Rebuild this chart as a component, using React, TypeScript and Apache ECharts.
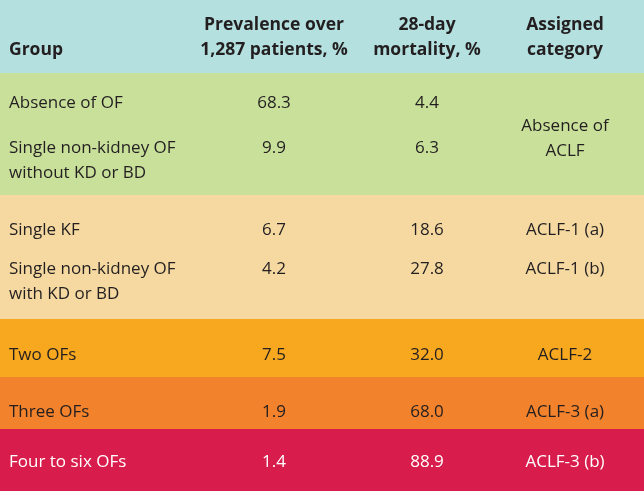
import React, { useEffect, useRef } from "react";
import * as echarts from "echarts";

// ---- data ----
const headers = ["Group", "Prevalence over\n1,287 patients, %", "28-day\nmortality, %", "Assigned\ncategory"];
const groups = [
  "Absence of OF",
  "Single non-kidney OF\nwithout KD or BD",
  "Single KF",
  "Single non-kidney OF\nwith KD or BD",
  "Two OFs",
  "Three OFs",
  "Four to six OFs",
];
const prevalence = [68.3, 9.9, 6.7, 4.2, 7.5, 1.9, 1.4];
const mortality = [4.4, 6.3, 18.6, 27.8, 32.0, 68.0, 88.9];
const categories = ["Absence of\nACLF", "ACLF-1 (a)", "ACLF-1 (b)", "ACLF-2", "ACLF-3 (a)", "ACLF-3 (b)"];
const rowBand = [1, 1, 2, 2, 3, 4, 5];

// ---- layout & style ----
const W = 644;
const H = 491;
const bandEdges = [0, 73, 195, 319, 377, 429, 491];
const bandColors = ["#b4e0df", "#c9e09b", "#f5d9a1", "#f8a81f", "#f2822b", "#d81c4b"];
const rowY = [101, 146, 228, 267, 353, 410, 460];
const categoryY = [137, 228, 267, 353, 410, 460];
const colX = [9, 274, 427, 565];
const headerY = 35.5;
const FONT = '"Open Sans", "Noto Sans", sans-serif';
const DARK = "#231f20";

function textEl(x: number, y: number, text: string, opts: any = {}) {
  return {
    type: "text",
    x,
    y,
    style: {
      text,
      fill: opts.fill || DARK,
      fontFamily: FONT,
      fontSize: opts.bold ? 17.5 : 17,
      fontWeight: opts.bold ? "bold" : "normal",
      align: opts.align || "center",
      verticalAlign: opts.vAlign || "middle",
      lineHeight: 25,
    },
  };
}

export default function App() {
  const ref = useRef<HTMLDivElement>(null);
  useEffect(() => {
    if (!ref.current) return;
    const chart = echarts.init(ref.current, null, { renderer: "svg" });
    const option: any = {
      animation: false,
      grid: { left: 0, right: 0, top: 0, bottom: 0 },
      xAxis: { type: "value", min: 0, max: W, show: false },
      yAxis: { type: "value", min: 0, max: H, inverse: true, show: false },
      series: [
        {
          type: "custom",
          clip: false,
          silent: true,
          data: bandColors.map((_, i) => [i]),
          renderItem: (_p: any, api: any) => {
            const i = api.value(0);
            const p0 = api.coord([0, bandEdges[i]]);
            const p1 = api.coord([W, bandEdges[i + 1]]);
            return {
              type: "rect",
              shape: { x: p0[0], y: p0[1], width: p1[0] - p0[0], height: p1[1] - p0[1] },
              style: { fill: bandColors[i] },
            };
          },
        },
        {
          type: "custom",
          clip: false,
          silent: true,
          data: headers.map((_, i) => [i]),
          renderItem: (_p: any, api: any) => {
            const i = api.value(0);
            const p = api.coord([colX[i], headerY]);
            if (i === 0) {
              const q = api.coord([colX[0], 48]);
              return textEl(q[0], q[1], headers[i], { bold: true, align: "left" });
            }
            return textEl(p[0], p[1], headers[i], { bold: true });
          },
        },
        {
          type: "custom",
          clip: false,
          silent: true,
          data: groups.map((_, i) => [i]),
          renderItem: (_p: any, api: any) => {
            const i = api.value(0);
            const fill = rowBand[i] === 5 ? "#ffffff" : DARK;
            const y = rowY[i];
            const pg = api.coord([colX[0], y]);
            const pv = api.coord([colX[1], y]);
            const pm = api.coord([colX[2], y]);
            return {
              type: "group",
              children: [
                textEl(pg[0], pg[1] - 12.5, groups[i], { align: "left", vAlign: "top", fill }),
                textEl(pv[0], pv[1], prevalence[i].toFixed(1), { fill }),
                textEl(pm[0], pm[1], mortality[i].toFixed(1), { fill }),
              ],
            };
          },
        },
        {
          type: "custom",
          clip: false,
          silent: true,
          data: categories.map((_, i) => [i]),
          renderItem: (_p: any, api: any) => {
            const i = api.value(0);
            const p = api.coord([colX[3], categoryY[i]]);
            const fill = i === categories.length - 1 ? "#ffffff" : DARK;
            return textEl(p[0], p[1], categories[i], { fill });
          },
        },
      ],
    };
    chart.setOption(option);
    return () => chart.dispose();
  }, []);
  return <div ref={ref} style={{ position: "fixed", left: 0, top: 0, width: W, height: H }} />;
}
